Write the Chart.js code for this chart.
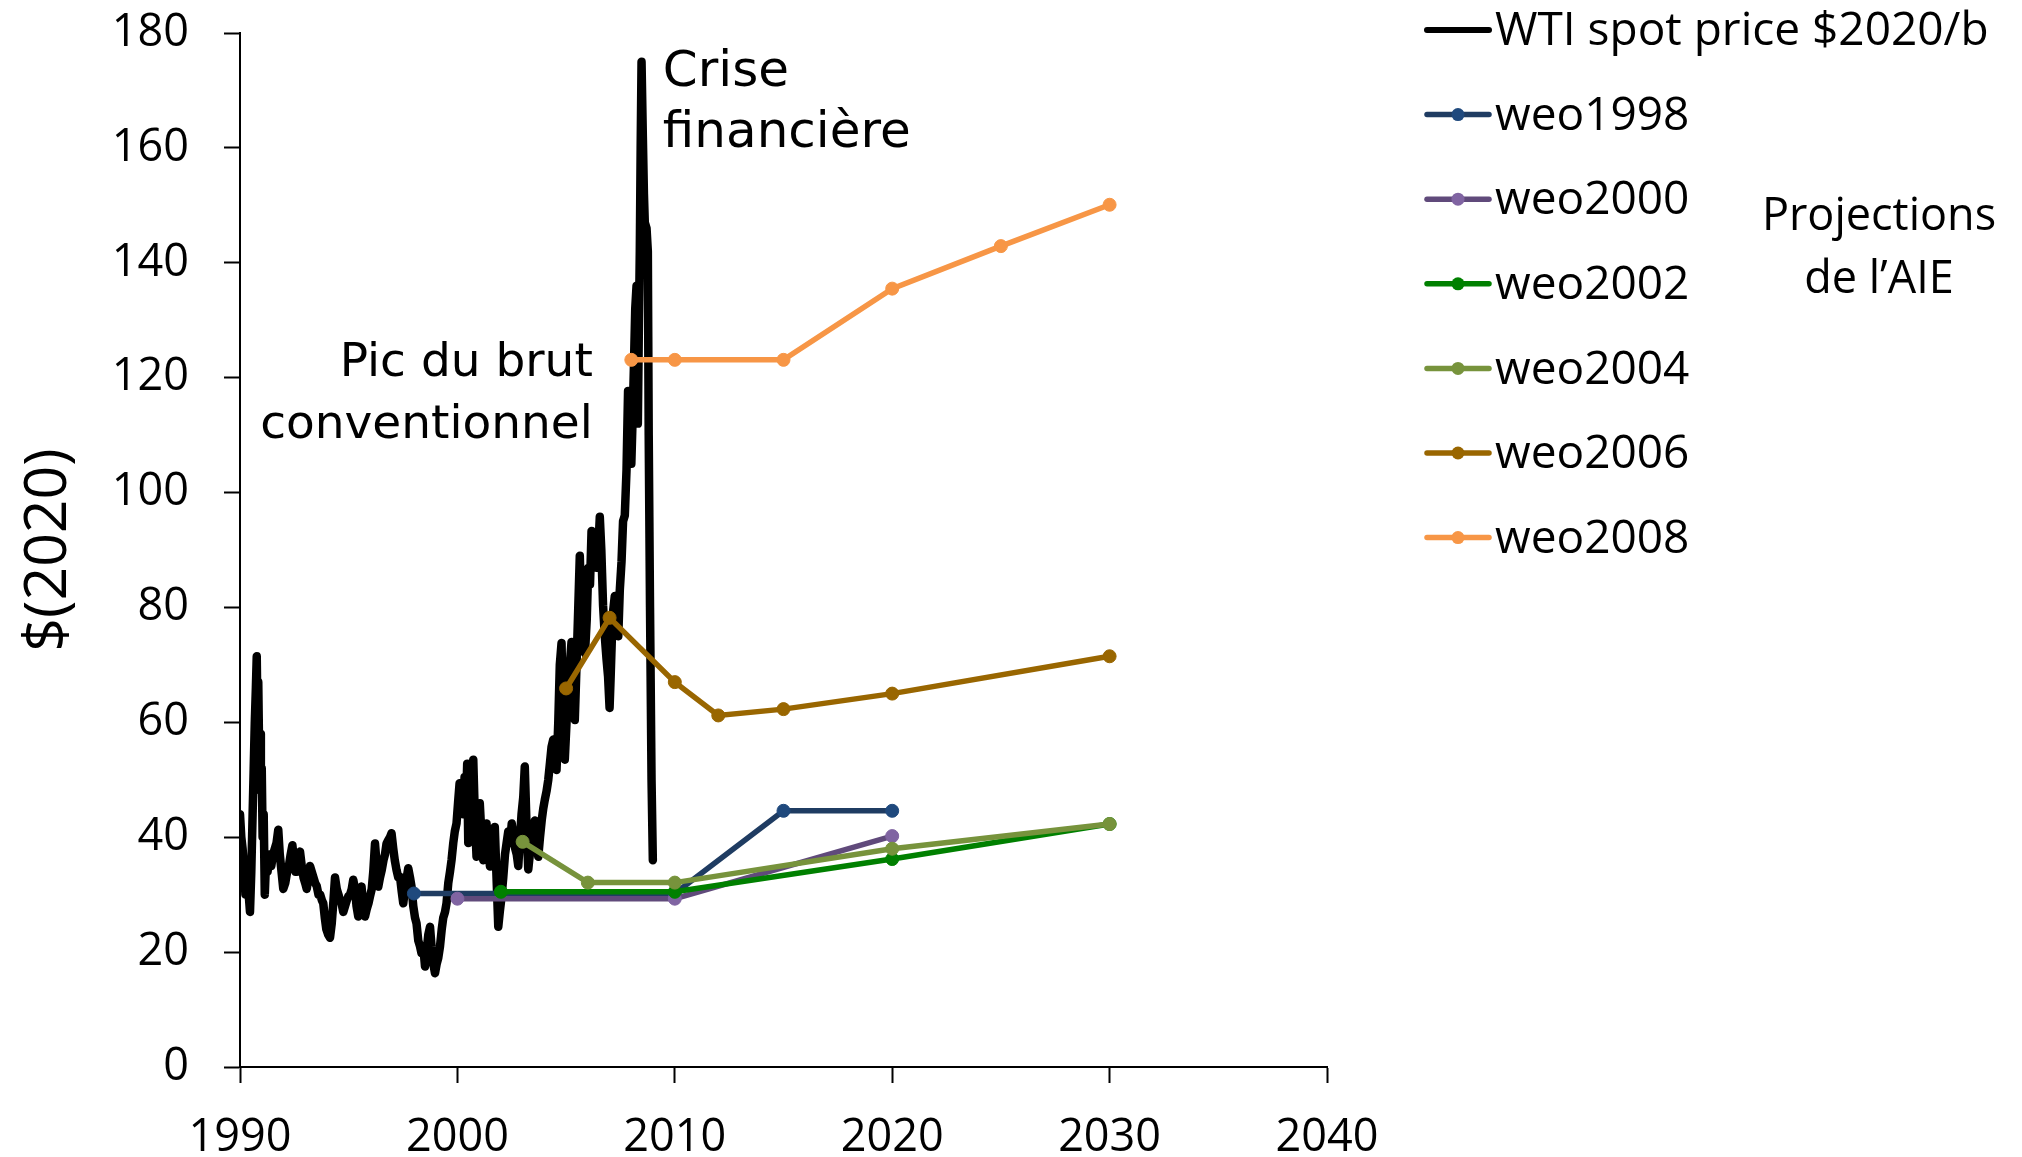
<!DOCTYPE html>
<html lang="fr">
<head>
<meta charset="utf-8">
<title>Prix du WTI et projections de l'AIE</title>
<script src="https://cdn.jsdelivr.net/npm/chart.js@4.4.1/dist/chart.umd.min.js"></script>
<style>
  html, body { margin: 0; padding: 0; background: #fff; }
  #wrap { width: 2022px; height: 1157px; }
</style>
</head>
<body>
<div id="wrap"><canvas id="chart" width="2022" height="1157"></canvas></div>
<script>
// Axis ticks
const yearTicks = [1990, 2000, 2010, 2020, 2030, 2040];
const priceTicks = [0, 20, 40, 60, 80, 100, 120, 140, 160, 180];

// WTI spot price, in 2020 dollars per barrel
const wtiYear = [
  1990.00,1990.06,1990.12,1990.18,1990.25,1990.32,1990.40,1990.46,1990.52,1990.58,
  1990.63,1990.68,1990.73,1990.77,1990.80,1990.84,1990.88,1990.92,1990.96,1991.00,
  1991.04,1991.09,1991.14,1991.20,1991.27,1991.35,1991.44,1991.52,1991.60,1991.68,
  1991.76,1991.83,1991.91,1991.99,1992.08,1992.17,1992.25,1992.33,1992.41,1992.48,
  1992.55,1992.62,1992.70,1992.76,1992.84,1992.92,1993.00,1993.07,1993.15,1993.22,
  1993.30,1993.38,1993.46,1993.53,1993.61,1993.69,1993.77,1993.83,1993.90,1993.97,
  1994.06,1994.14,1994.22,1994.30,1994.37,1994.45,1994.53,1994.60,1994.67,1994.75,
  1994.83,1994.91,1994.98,1995.06,1995.14,1995.21,1995.29,1995.36,1995.44,1995.52,
  1995.59,1995.67,1995.75,1995.83,1995.91,1995.98,1996.06,1996.13,1996.21,1996.29,
  1996.36,1996.44,1996.52,1996.60,1996.67,1996.74,1996.82,1996.90,1996.97,1997.05,
  1997.12,1997.20,1997.28,1997.36,1997.44,1997.51,1997.59,1997.67,1997.74,1997.82,
  1997.89,1997.97,1998.05,1998.12,1998.20,1998.28,1998.35,1998.43,1998.51,1998.58,
  1998.66,1998.74,1998.81,1998.89,1998.97,1999.05,1999.12,1999.20,1999.28,1999.35,
  1999.43,1999.50,1999.58,1999.66,1999.73,1999.81,1999.88,1999.96,2000.03,2000.10,
  2000.18,2000.26,2000.33,2000.40,2000.45,2000.50,2000.57,2000.65,2000.73,2000.80,
  2000.88,2000.95,2001.03,2001.11,2001.19,2001.26,2001.34,2001.42,2001.50,2001.58,
  2001.65,2001.72,2001.80,2001.88,2001.95,2002.03,2002.11,2002.19,2002.26,2002.34,
  2002.42,2002.50,2002.58,2002.66,2002.73,2002.80,2002.88,2002.95,2003.03,2003.10,
  2003.18,2003.26,2003.33,2003.41,2003.49,2003.56,2003.64,2003.72,2003.80,2003.88,
  2003.95,2004.02,2004.10,2004.18,2004.26,2004.33,2004.41,2004.49,2004.56,2004.64,
  2004.71,2004.79,2004.86,2004.94,2005.02,2005.09,2005.17,2005.25,2005.32,2005.40,
  2005.48,2005.56,2005.63,2005.68,2005.74,2005.80,2005.87,2005.95,2006.02,2006.10,
  2006.17,2006.25,2006.33,2006.40,2006.48,2006.55,2006.62,2006.70,2006.78,2006.86,
  2006.93,2007.00,2007.05,2007.10,2007.16,2007.24,2007.32,2007.40,2007.47,2007.55,
  2007.62,2007.70,2007.78,2007.85,2007.93,2008.00,2008.06,2008.12,2008.18,2008.24,
  2008.30,2008.35,2008.39,2008.43,2008.47,2008.53,2008.58,2008.62,2008.70,2008.76,
  2008.80,2008.86,2008.93,2008.99
];
const wtiPrice = [
  44,40,38,35,30,34,30,27,34,44,
  52,60,66,71.5,62,67,55,58,48,52,
  40,44,30,36,34,37,35,37,38,39,
  41.3,37,34,31,32,34,35,37,38.6,36,
  34,34,36,37.5,35,33,32,31,33,35,
  34,33,32,31.5,30,30,29,28.5,26,24,
  23,22.5,25,29,33,31,30,29,28.5,27,
  28,29,29.7,30,31,32.6,31,28,26.2,30,
  31.4,28,26.2,27.5,28.5,29.7,31,34,38.9,35,
  31.4,33,34.3,36,37,38.9,39.5,40,40.7,38,
  36,34.3,33,33.1,30.5,28.5,31,33,34.6,33,
  31.4,28,26,25,22,21,19.8,21,17.5,20,
  23,24.4,21,18,16.3,18,19,21,24,26,
  27,28.5,32,34,36,39,41,42.4,46,49.4,
  47,44,50.5,46,52.8,39,45,48,53.5,44,
  36.6,40,45.9,40,36,40,42.4,38,34.9,37,
  39,41.8,33,24.4,27,29.6,33,37,38.9,41,
  39,42.4,40,38,37,35,40,44,47,52.3,
  42,34.4,37,39,41,42.9,39,36.6,40,43,
  45,46.5,48,50,53,55.7,57,52,51.7,60,
  70,73.8,60,53.5,60,64,70,74,66,60.4,
  70,80,89,82,78,75,72,78,86.9,84,
  93.3,88,92,86.9,90,95.8,90,80.4,75,71,
  68,62.5,68,74,79.2,82,78,75,83,88,
  95,96,104,117.7,112,105,113,122,132,136,
  112,130,142,160,175,162,152,147,146,142,
  110,80,50,36
];

// IEA World Energy Outlook price projections (2020 $/b)
const weo1998Year = [1998, 2010, 2015, 2020];
const weo1998Price = [30.2, 30.2, 44.6, 44.6];
const weo2000Year = [2000, 2010, 2020];
const weo2000Price = [29.3, 29.3, 40.2];
const weo2002Year = [2002, 2010, 2020, 2030];
const weo2002Price = [30.5, 30.5, 36.2, 42.3];
const weo2004Year = [2003, 2006, 2010, 2020, 2030];
const weo2004Price = [39.2, 32.1, 32.1, 38.0, 42.3];
const weo2006Year = [2005, 2007, 2010, 2012, 2015, 2020, 2030];
const weo2006Price = [65.9, 78.2, 67.0, 61.2, 62.3, 65.0, 71.5];
const weo2008Year = [2008, 2010, 2015, 2020, 2025, 2030];
const weo2008Price = [123.1, 123.1, 123.1, 135.5, 142.9, 150.1];

const FONT = '"Open Sans", "Liberation Sans", sans-serif';
const HAND = '"DejaVu Sans", sans-serif';

function pts(xs, ys) { return xs.map((x, i) => ({ x: x, y: ys[i] })); }

function projection(label, xs, ys, line, marker, order) {
  return {
    label: label,
    data: pts(xs, ys),
    borderColor: line,
    backgroundColor: marker,
    pointBackgroundColor: marker,
    pointBorderColor: marker,
    borderWidth: 5.5,
    pointRadius: 6.5,
    pointBorderWidth: 1,
    tension: 0,
    order: order
  };
}

// Legend drawn beside the plot, one row per series, line with marker like the chart
const sideLegend = {
  id: 'sideLegend',
  afterDraw(chart) {
    const ctx = chart.ctx;
    const area = chart.chartArea;
    const x0 = area.right + 100;
    const rowGap = 84.6;
    ctx.save();
    chart.data.datasets.forEach((ds, i) => {
      const y = area.top - 3 + i * rowGap;
      ctx.strokeStyle = ds.borderColor;
      ctx.lineWidth = Math.min(ds.borderWidth, 6);
      ctx.lineCap = 'round';
      ctx.beginPath();
      ctx.moveTo(x0, y);
      ctx.lineTo(x0 + 62, y);
      ctx.stroke();
      if (ds.pointRadius > 0) {
        ctx.fillStyle = ds.pointBackgroundColor;
        ctx.beginPath();
        ctx.arc(x0 + 31, y, 6.5, 0, Math.PI * 2);
        ctx.fill();
      }
      ctx.fillStyle = '#000';
      ctx.font = '46px ' + FONT;
      ctx.textAlign = 'left';
      ctx.textBaseline = 'middle';
      ctx.fillText(ds.label, x0 + 68, y + 2);
    });
    // caption for the projection group
    ctx.font = '45px ' + FONT;
    ctx.textAlign = 'center';
    ctx.textBaseline = 'middle';
    ctx.fillText('Projections', area.right + 552, area.top + 184);
    ctx.fillText('de l\u2019AIE', area.right + 552, area.top + 247);
    ctx.restore();
  }
};

// Text notes placed at data coordinates
const notes = {
  id: 'notes',
  afterDatasetsDraw(chart) {
    const ctx = chart.ctx;
    const xs = chart.scales.x, ys = chart.scales.y;
    ctx.save();
    ctx.fillStyle = '#000';
    ctx.textBaseline = 'middle';
    ctx.textAlign = 'left';
    ctx.font = '50px ' + HAND;
    ctx.fillText('Crise', xs.getPixelForValue(2009.45), ys.getPixelForValue(173));
    ctx.fillText('financi\u00e8re', xs.getPixelForValue(2009.45), ys.getPixelForValue(162.4));
    ctx.textAlign = 'right';
    ctx.font = '47px ' + HAND;
    ctx.fillText('Pic du brut', xs.getPixelForValue(2006.23), ys.getPixelForValue(122.4));
    ctx.fillText('conventionnel', xs.getPixelForValue(2006.23), ys.getPixelForValue(111.6));
    ctx.restore();
  }
};

function build() {
  const ctx = document.getElementById('chart').getContext('2d');
  new Chart(ctx, {
    type: 'line',
    data: {
      datasets: [
        {
          label: 'WTI spot price $2020/b',
          data: pts(wtiYear, wtiPrice),
          borderColor: '#000000',
          backgroundColor: '#000000',
          borderWidth: 8.5,
          pointRadius: 0,
          tension: 0,
          borderJoinStyle: 'round',
          borderCapStyle: 'round',
          order: 7
        },
        projection('weo1998', weo1998Year, weo1998Price, '#1F3C62', '#1F497D', 6),
        projection('weo2000', weo2000Year, weo2000Price, '#604A7B', '#8064A2', 5),
        projection('weo2002', weo2002Year, weo2002Price, '#008000', '#008000', 4),
        projection('weo2004', weo2004Year, weo2004Price, '#77933C', '#77933C', 3),
        projection('weo2006', weo2006Year, weo2006Price, '#996600', '#996600', 2),
        projection('weo2008', weo2008Year, weo2008Price, '#F79646', '#F79646', 1)
      ]
    },
    options: {
      responsive: false,
      animation: false,
      devicePixelRatio: 1,
      layout: { padding: { top: 33, right: 695, left: 0, bottom: 0 } },
      plugins: {
        legend: { display: false },
        tooltip: { enabled: false },
        title: { display: false }
      },
      scales: {
        x: {
          type: 'linear',
          min: yearTicks[0],
          max: yearTicks[yearTicks.length - 1],
          afterBuildTicks: s => { s.ticks = yearTicks.map(v => ({ value: v })); },
          afterFit: s => { s.height = 90; },
          ticks: {
            color: '#000',
            font: { family: FONT, size: 45 },
            padding: 28,
            maxRotation: 0,
            callback: v => String(v)
          },
          grid: {
            drawOnChartArea: false,
            drawTicks: true,
            tickLength: 16,
            tickWidth: 2,
            tickColor: '#000'
          },
          border: { color: '#000', width: 2 }
        },
        y: {
          min: priceTicks[0],
          max: priceTicks[priceTicks.length - 1],
          afterBuildTicks: s => { s.ticks = priceTicks.map(v => ({ value: v })); },
          afterFit: s => { s.width = 240; s.paddingTop = 0; s.paddingBottom = 0; },
          ticks: {
            color: '#000',
            font: { family: FONT, size: 45 },
            padding: 35,
            callback: v => String(v)
          },
          grid: {
            drawOnChartArea: false,
            drawTicks: true,
            tickLength: 16,
            tickWidth: 2,
            tickColor: '#000'
          },
          border: { color: '#000', width: 2 },
          title: {
            display: true,
            text: '$(2020)',
            color: '#000',
            font: { family: FONT, size: 59 },
            padding: { top: 14, bottom: 0 }
          }
        }
      }
    },
    plugins: [notes, sideLegend]
  });
}

Promise.all([
  document.fonts.load('45px "Open Sans"'),
  document.fonts.load('48px "DejaVu Sans"')
]).then(build, build);
</script>
</body>
</html>
